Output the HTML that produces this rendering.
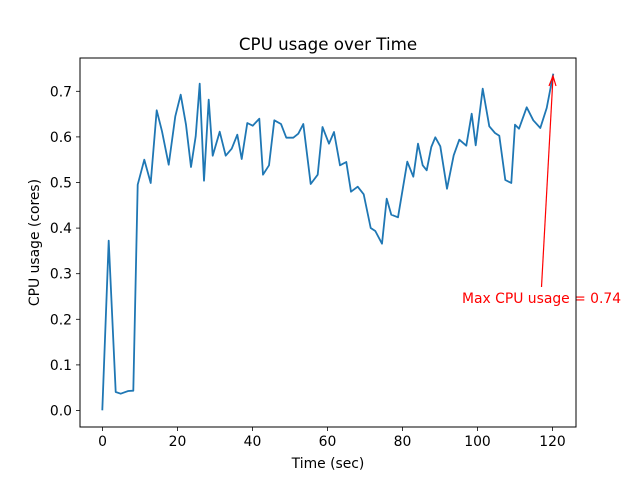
<!DOCTYPE html>
<html><head><meta charset="utf-8"><style>body{margin:0;background:#fff}svg{display:block}</style></head>
<body>
<svg width="640" height="480" xmlns="http://www.w3.org/2000/svg" font-family="'DejaVu Sans', 'Liberation Sans', sans-serif">
<rect width="640" height="480" fill="#fff"/>
<text x="328" y="50" font-size="16.7" text-anchor="middle" fill="#000">CPU usage over Time</text>
<polyline fill="none" stroke="#1f77b4" stroke-width="1.8" stroke-linejoin="round" points="102.3,410.3 108.7,240.7 115.7,392 120.7,393.7 128.3,391 133.3,390.7 137.7,184.7 144.3,159.7 150.7,183 156.7,110.3 162,131.3 168.7,164.7 175.3,116.3 180.7,94.7 186,124.7 191,167 195.7,136.3 199.7,83.7 204,180.7 208.7,99.7 212.7,155.7 219.7,131.7 225.7,155.7 231.7,148.7 237.3,134.7 241.7,159 247.3,123 252.7,125.7 259.3,118.7 263,174.7 269,165.3 274.3,120.3 281,124 286.3,137.7 293.3,137.7 298.3,133.7 303.3,124 310.7,184 317.7,174.7 322.5,127 329,143.7 334,132 340,165.3 346.3,162 351,191.7 357.7,186.7 363.7,194.3 370.7,228 375.3,231 382,243.7 386.7,198.7 391.3,214.7 398,217.3 407.3,161.7 413.3,176.7 418,143.7 422.7,165.3 426.7,170.3 431.3,147 435.3,137.3 440.3,146.3 447,188.7 453.7,155.3 459.3,139.7 466.3,145.7 471.7,113.7 475.7,145.3 482.7,88.7 489.3,126.3 495,133 499.3,135.7 505.3,180 511.3,183 515,124.7 519,128.7 526.7,107.3 533.3,120.3 540.3,128 546.7,108 553.3,73.7"/>
<line x1="541.5" y1="287" x2="553" y2="77" stroke="#f00" stroke-width="1.2"/>
<polyline points="549,86 553,76 556,86" fill="none" stroke="#f00" stroke-width="1.2"/>
<text x="462" y="303" font-size="13.9" fill="#f00">Max CPU usage = 0.74</text>
<rect x="80" y="58" width="496" height="369" fill="none" stroke="#000" stroke-width="1"/>
<g stroke="#000" stroke-width="0.8">
<line x1="102.5" y1="427" x2="102.5" y2="431"/><line x1="177.5" y1="427" x2="177.5" y2="431"/><line x1="252.5" y1="427" x2="252.5" y2="431"/><line x1="327.5" y1="427" x2="327.5" y2="431"/><line x1="402.5" y1="427" x2="402.5" y2="431"/><line x1="477.5" y1="427" x2="477.5" y2="431"/><line x1="552.5" y1="427" x2="552.5" y2="431"/>
<line x1="76" y1="410.5" x2="80" y2="410.5"/><line x1="76" y1="364.9" x2="80" y2="364.9"/><line x1="76" y1="319.3" x2="80" y2="319.3"/><line x1="76" y1="273.7" x2="80" y2="273.7"/><line x1="76" y1="228.1" x2="80" y2="228.1"/><line x1="76" y1="182.5" x2="80" y2="182.5"/><line x1="76" y1="136.9" x2="80" y2="136.9"/><line x1="76" y1="91.3" x2="80" y2="91.3"/>
</g>
<g font-size="13.9" text-anchor="middle" fill="#000">
<text x="102.5" y="446">0</text><text x="177.5" y="446">20</text><text x="252.5" y="446">40</text><text x="327.5" y="446">60</text><text x="402.5" y="446">80</text><text x="477.5" y="446">100</text><text x="552.5" y="446">120</text>
<text x="328" y="468">Time (sec)</text>
</g>
<g font-size="13.9" text-anchor="end" fill="#000">
<text x="72" y="415.5">0.0</text><text x="72" y="369.9">0.1</text><text x="72" y="324.3">0.2</text><text x="72" y="278.7">0.3</text><text x="72" y="233.1">0.4</text><text x="72" y="187.5">0.5</text><text x="72" y="141.9">0.6</text><text x="72" y="96.3">0.7</text>
</g>
<text x="39" y="242.5" font-size="13.9" text-anchor="middle" transform="rotate(-90 39 242.5)">CPU usage (cores)</text>
</svg>
</body></html>
